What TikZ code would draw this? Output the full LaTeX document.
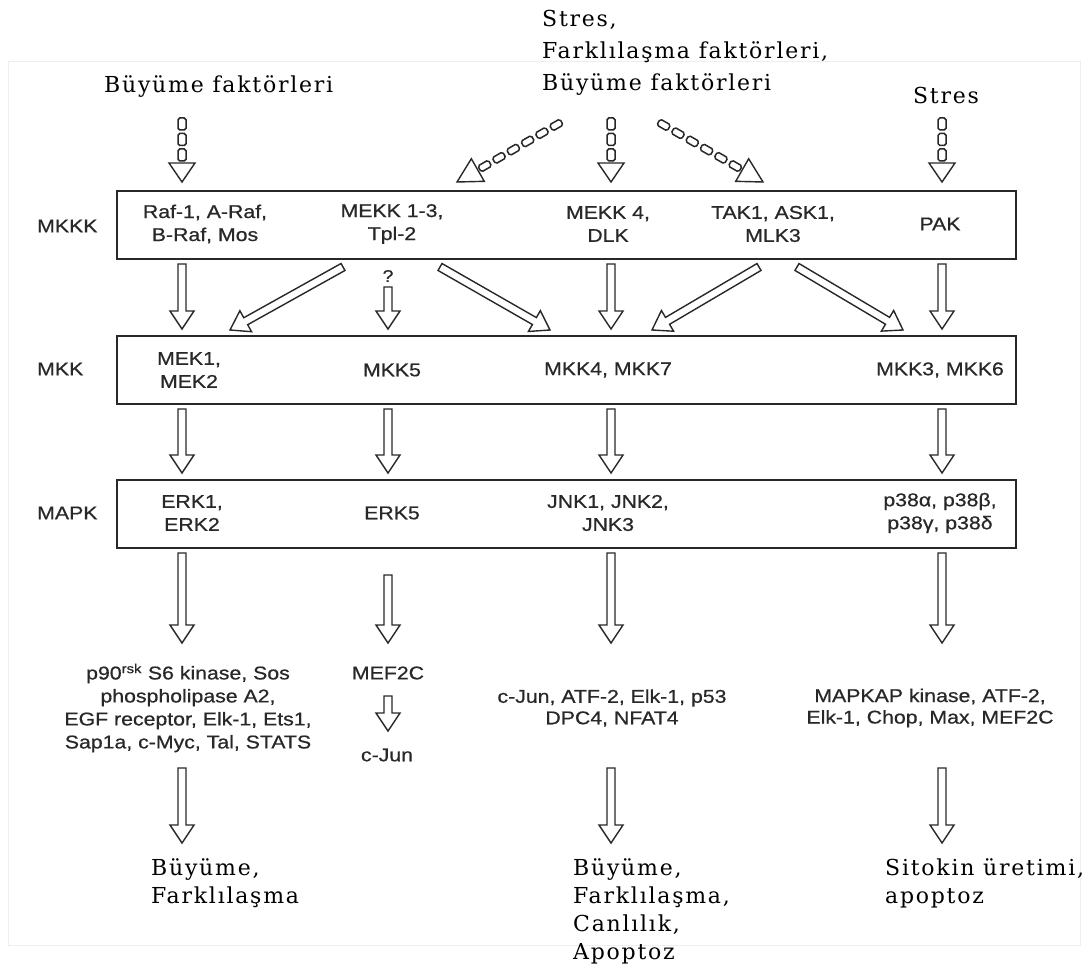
\documentclass[tikz,border=0pt]{standalone}
\usepackage{fontspec}
\newfontfamily\sansf[FakeStretch=1.15,FakeBold=0.6]{Liberation Sans}
\newfontfamily\seriff[LetterSpace=8]{DejaVu Serif}
\usetikzlibrary{calc}
\definecolor{ink}{RGB}{40,40,40}
\definecolor{framec}{RGB}{238,238,238}
\tikzset{
  lvl/.style={draw=ink, line width=1.8pt, minimum width=899pt, minimum height=68pt, inner sep=0pt, anchor=north west},
  st/.style={font=\sansf\fontsize{18.5}{23}\selectfont, text=ink, align=center, inner sep=0pt},
  stb/.style={st, font=\sansf\fontsize{18.5}{21.5}\selectfont},
  lab/.style={st, anchor=west},
  serif/.style={font=\seriff\fontsize{22}{28}\selectfont, text=black, align=left, inner sep=0pt},
  fatline/.style={draw=ink, line width=1.4pt, fill=white, line join=miter},
}
\newcommand\fatarrow[2]{%
  \path let \p1=(#1), \p2=(#2) in \pgfextra{%
    \pgfmathsetmacro\faangl{atan2(\y2-\y1,\x2-\x1)}%
    \pgfmathsetmacro\falenl{veclen(\x2-\x1,\y2-\y1)}%
    \xdef\faang{\faangl}\xdef\falen{\falenl}};
  \pgfmathsetmacro\fab{\falen-18}%
  \draw[fatline, shift={(#1)}, rotate=\faang] (0pt,-4pt) -- (\fab pt,-4pt) -- (\fab pt,-12pt) -- (\falen pt,0pt) -- (\fab pt,12pt) -- (\fab pt,4pt) -- (0pt,4pt) -- cycle;
}
% start, tip, n, pitch, len, halfwidth, headlen
\newcommand\dasharrow[7]{%
  \path let \p1=(#1), \p2=(#2) in \pgfextra{%
    \pgfmathsetmacro\faangl{atan2(\y2-\y1,\x2-\x1)}%
    \pgfmathsetmacro\falenl{veclen(\x2-\x1,\y2-\y1)}%
    \xdef\faang{\faangl}\xdef\falen{\falenl}};
  \pgfmathsetmacro\fab{\falen-#7}%
  \begin{scope}[shift={(#1)}, rotate=\faang]
    \draw[fatline] (\fab pt,-13pt) -- (\falen pt,0pt) -- (\fab pt,13pt) -- cycle;
    \foreach \i in {1,...,#3}{%
      \pgfmathsetmacro\sqe{\fab-2-(\i-1)*#4}%
      \pgfmathsetmacro\sqb{\sqe-#5}%
      \draw[fatline, line width=1.5pt, rounded corners=1.8pt] (\sqb pt,-#6pt) rectangle (\sqe pt,#6pt);
    }
  \end{scope}
}
\begin{document}
\begin{tikzpicture}[x=1pt,y=-1pt]
\useasboundingbox (0,0) rectangle (1091,965);
\fill[white] (0,0) rectangle (1091,965);
\draw[framec, line width=1pt] (8,62) rectangle (1080,945);

% ---------- top inputs ----------
\node[serif, anchor=base west] (in1) at (104,93) {Büyüme faktörleri};
\node[serif, anchor=north west, font=\seriff\fontsize{22}{32}\selectfont] (in2) at (542,10) {Stres,\\Farklılaşma faktörleri,\\Büyüme faktörleri};
\node[serif, anchor=base] (in3) at (946,104) {Stres};

% ---------- level boxes ----------
\node[lvl] (mkkk) at (116,190) {};
\node[lvl] (mkk)  at (116,335) {};
\node[lvl] (mapk) at (116,479) {};

\node[lab] (lmkkk) at (37,226) {MKKK};
\node[lab] (lmkk)  at (37,369) {MKK};
\node[lab] (lmapk) at (37,513) {MAPK};

% MKKK contents
\node[st] (raf)  at (205,224) {Raf-1, A-Raf,\\B-Raf, Mos};
\node[st] (mekk) at (392,224) {MEKK 1-3,\\Tpl-2};
\node[st] (mekk4) at (608,224) {MEKK 4,\\DLK};
\node[st] (tak)  at (773,224) {TAK1, ASK1,\\MLK3};
\node[st] (pak)  at (940,224) {PAK};

% MKK contents
\node[st] (mek)  at (189,370) {MEK1,\\MEK2};
\node[st] (mkk5) at (392,370) {MKK5};
\node[st] (mkk4) at (608,370) {MKK4, MKK7};
\node[st] (mkk3) at (940,370) {MKK3, MKK6};

% MAPK contents
\node[st] (erk)  at (192,513) {ERK1,\\ERK2};
\node[st] (erk5) at (392,513) {ERK5};
\node[st] (jnk)  at (608,513) {JNK1, JNK2,\\JNK3};
\node[st] (p38)  at (940,513) {p38α, p38β,\\p38γ, p38δ};

% substrates
\node[st] (sub1) at (188,708) {p90\textsuperscript{rsk} S6 kinase, Sos\\phospholipase A2,\\EGF receptor, Elk-1, Ets1,\\Sap1a, c-Myc, Tal, STATS};
\node[st] (mef)  at (388,673) {MEF2C};
\node[st] (cjun) at (387,755) {c-Jun};
\node[stb] (sub3) at (612,708) {c-Jun, ATF-2, Elk-1, p53\\DPC4, NFAT4};
\node[stb] (sub4) at (930,708) {MAPKAP kinase, ATF-2,\\Elk-1, Chop, Max, MEF2C};

% outcomes
\node[serif, anchor=north west] (out1) at (151,858) {Büyüme,\\Farklılaşma};
\node[serif, anchor=north west] (out3) at (573,858) {Büyüme,\\Farklılaşma,\\Canlılık,\\Apoptoz};
\node[serif, anchor=north west] (out4) at (885,858) {Sitokin üretimi,\\apoptoz};

\node[st, font=\sansf\fontsize{17}{20}\selectfont] (q) at (388,276) {?};

% ---------- coordinates ----------
\coordinate (d1s) at (182,114); \coordinate (d1e) at (182,182);
\coordinate (d2s) at (565,120); \coordinate (d2e) at (457,182);
\coordinate (d3s) at (611,114); \coordinate (d3e) at (611,182);
\coordinate (d4s) at (655,120); \coordinate (d4e) at (763,182);
\coordinate (d5s) at (942,114); \coordinate (d5e) at (942,182);

\coordinate (a1s) at (182,264); \coordinate (a1e) at (182,329);
\coordinate (a2s) at (343,267); \coordinate (a2e) at (230,330);
\coordinate (a3s) at (440,267); \coordinate (a3e) at (550,330);
\coordinate (a4s) at (388,287); \coordinate (a4e) at (388,329);
\coordinate (a5s) at (611,264); \coordinate (a5e) at (611,329);
\coordinate (a6s) at (759,267); \coordinate (a6e) at (652,330);
\coordinate (a7s) at (797,267); \coordinate (a7e) at (903,330);
\coordinate (a8s) at (942,264); \coordinate (a8e) at (942,329);

\coordinate (b1s) at (182,409); \coordinate (b1e) at (182,473);
\coordinate (b2s) at (388,409); \coordinate (b2e) at (388,473);
\coordinate (b3s) at (611,409); \coordinate (b3e) at (611,473);
\coordinate (b4s) at (942,409); \coordinate (b4e) at (942,473);

\coordinate (c1s) at (182,553); \coordinate (c1e) at (182,643);
\coordinate (c2s) at (388,575); \coordinate (c2e) at (388,643);
\coordinate (c3s) at (611,553); \coordinate (c3e) at (611,643);
\coordinate (c4s) at (942,553); \coordinate (c4e) at (942,643);

\coordinate (m1s) at (388,696); \coordinate (m1e) at (388,731);

\coordinate (e1s) at (182,768); \coordinate (e1e) at (182,843);
\coordinate (e3s) at (611,768); \coordinate (e3e) at (611,843);
\coordinate (e4s) at (942,768); \coordinate (e4e) at (942,843);

% ---------- dashed (stimulus) arrows ----------
\dasharrow{d1s}{d1e}{3}{15.5}{12}{4}{19}
\dasharrow{d2s}{d2e}{6}{16.5}{12}{3.5}{24}
\dasharrow{d3s}{d3e}{3}{15.5}{12}{4}{19}
\dasharrow{d4s}{d4e}{6}{16.5}{12}{3.5}{24}
\dasharrow{d5s}{d5e}{3}{15.5}{12}{4}{19}

% ---------- hollow arrows ----------
\fatarrow{a1s}{a1e}
\fatarrow{a2s}{a2e}
\fatarrow{a3s}{a3e}
\fatarrow{a4s}{a4e}
\fatarrow{a5s}{a5e}
\fatarrow{a6s}{a6e}
\fatarrow{a7s}{a7e}
\fatarrow{a8s}{a8e}
\fatarrow{b1s}{b1e}
\fatarrow{b2s}{b2e}
\fatarrow{b3s}{b3e}
\fatarrow{b4s}{b4e}
\fatarrow{c1s}{c1e}
\fatarrow{c2s}{c2e}
\fatarrow{c3s}{c3e}
\fatarrow{c4s}{c4e}
\fatarrow{m1s}{m1e}
\fatarrow{e1s}{e1e}
\fatarrow{e3s}{e3e}
\fatarrow{e4s}{e4e}
\end{tikzpicture}
\end{document}
